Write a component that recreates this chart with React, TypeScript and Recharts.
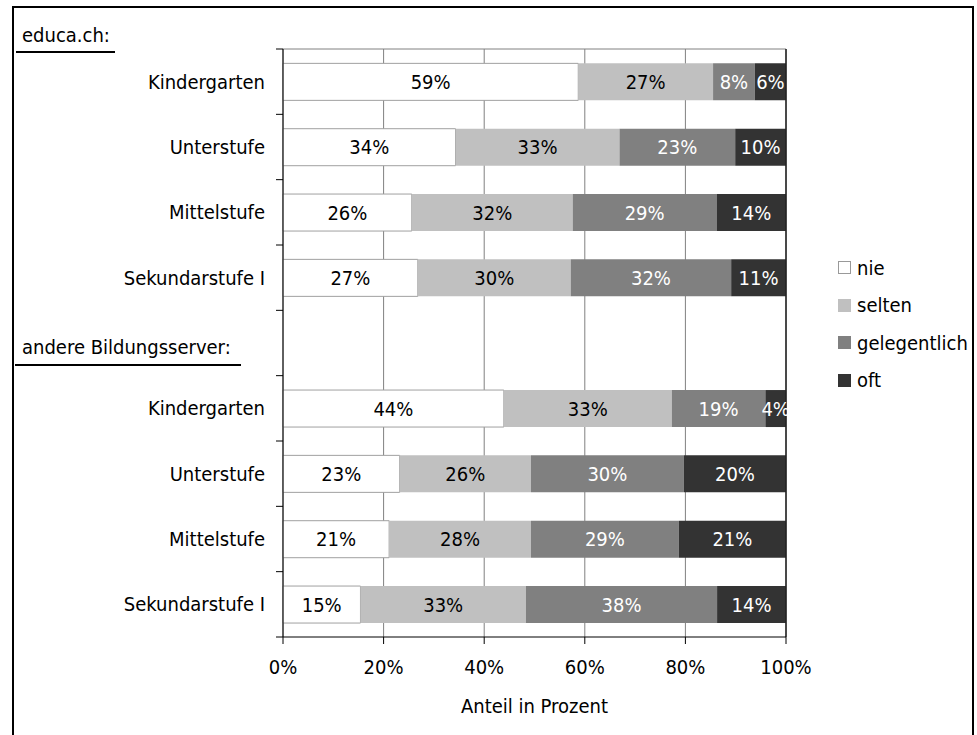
import { BarChart, Bar, XAxis, YAxis, CartesianGrid, LabelList, ReferenceLine } from 'recharts';

const FONT = '"DejaVu Sans Condensed", "Liberation Sans Narrow", "Open Sans", sans-serif';
const FONT_SIZE = 20;

const GROUPS = ['educa.ch:', 'andere Bildungsserver:'];
const LEVELS = ['Kindergarten', 'Unterstufe', 'Mittelstufe', 'Sekundarstufe I'];
const SERIES = ['nie', 'selten', 'gelegentlich', 'oft'];
const COLORS = ['#ffffff', '#c0c0c0', '#808080', '#333333'];
const LABEL_COLORS = ['#000000', '#000000', '#ffffff', '#ffffff'];

// Shares in percent per level: nie, selten, gelegentlich, oft
const EDUCA = [
  [58.7, 26.8, 8.3, 6.2],
  [34.3, 32.6, 23.0, 10.1],
  [25.6, 32.0, 28.6, 13.8],
  [26.8, 30.4, 31.9, 10.9],
];
const ANDERE = [
  [43.9, 33.4, 18.6, 4.1],
  [23.2, 26.1, 30.4, 20.3],
  [21.1, 28.2, 29.4, 21.3],
  [15.4, 32.9, 38.0, 13.7],
];
const X_TICKS = [0, 20, 40, 60, 80, 100];

type Row = { name: string; header?: string; [key: string]: any };

const toRows = (values: number[][]): Row[] =>
  values.map((v, i) => {
    const row: Row = { name: LEVELS[i] };
    SERIES.forEach((s, j) => (row[s] = v[j]));
    return row;
  });

// empty row between the two groups carries the second group title
const data: Row[] = [...toRows(EDUCA), { name: '', header: GROUPS[1] }, ...toRows(ANDERE)];

const fmt = (v: any) => (v == null ? '' : `${Math.round(Number(v))}%`);

function CategoryTick(props: any) {
  const { x, y, payload, index, visibleTicksCount } = props;
  const half = payload?.offset || 588 / 18;
  const axisX = x + 18;
  const row = data[index];
  return (
    <g fontFamily={FONT} fontSize={FONT_SIZE} fill="#000">
      <line x1={axisX - 7} x2={axisX} y1={y - half} y2={y - half} stroke="#000" />
      {index === visibleTicksCount - 1 && (
        <line x1={axisX - 7} x2={axisX} y1={y + half} y2={y + half} stroke="#000" />
      )}
      {index === 0 && (
        <g>
          <text x={22} y={y - half - 14} dominantBaseline="central">{GROUPS[0]}</text>
          <line x1={16} x2={115} y1={y - half + 3} y2={y - half + 3} stroke="#000" strokeWidth={2} />
        </g>
      )}
      {row?.header ? (
        <g>
          <text x={22} y={y + 4} dominantBaseline="central">{row.header}</text>
          <line x1={15} x2={241} y1={y + 22} y2={y + 22} stroke="#000" strokeWidth={2} />
        </g>
      ) : (
        <text x={x} y={y} textAnchor="end" dominantBaseline="central">{payload.value}</text>
      )}
    </g>
  );
}

function SeriesLegend() {
  return (
    <div style={{ position: 'absolute', left: 838, top: 249, fontFamily: FONT, fontSize: FONT_SIZE, color: '#000' }}>
      {SERIES.map((s, i) => (
        <div key={s} style={{ display: 'flex', alignItems: 'center', height: 37.5 }}>
          <span
            style={{
              display: 'inline-block',
              width: 13,
              height: 13,
              boxSizing: 'border-box',
              background: COLORS[i],
              border: i === 0 ? '1px solid #999' : 'none',
              marginRight: 6,
            }}
          />
          {s}
        </div>
      ))}
    </div>
  );
}

export default function App() {
  return (
    <div style={{ position: 'absolute', left: 0, top: 0, width: 977, height: 735, overflow: 'hidden', background: '#fff', fontFamily: FONT }}>
      <div
        style={{
          position: 'absolute',
          left: 12,
          top: 6,
          width: 962,
          height: 760,
          border: '2px solid #000',
          boxSizing: 'border-box',
        }}
      />
      <BarChart
        width={977}
        height={735}
        data={data}
        layout="vertical"
        margin={{ top: 49, right: 191, bottom: 0, left: 0 }}
        barCategoryGap="22%"
        style={{ position: 'absolute', left: 0, top: 0 }}
      >
        <CartesianGrid
          stroke="#808080"
          horizontalCoordinatesGenerator={({ offset }: any) => [offset.top]}
        />
        <XAxis
          type="number"
          domain={[0, 100]}
          ticks={X_TICKS}
          tickFormatter={(v) => `${v}%`}
          height={98}
          tickSize={7}
          tickMargin={16}
          stroke="#000"
          tick={{ fill: '#000', fontSize: FONT_SIZE, fontFamily: FONT }}
          label={{ value: 'Anteil in Prozent', position: 'insideBottom', offset: 22, fill: '#000', fontSize: FONT_SIZE, fontFamily: FONT }}
        />
        <YAxis
          type="category"
          dataKey="name"
          width={283}
          tickSize={6}
          tickMargin={12}
          tickLine={false}
          stroke="#000"
          interval={0}
          tick={<CategoryTick />}
        />
        <ReferenceLine x={100} stroke="#222" strokeWidth={1.5} />
        {SERIES.map((s, i) => (
          <Bar
            key={s}
            dataKey={s}
            stackId="a"
            fill={COLORS[i]}
            stroke={i === 0 ? '#a0a0a0' : 'none'}
            isAnimationActive={false}
          >
            <LabelList
              dataKey={s}
              position="center"
              formatter={fmt}
              fill={LABEL_COLORS[i]}
              fontSize={FONT_SIZE}
              fontFamily={FONT}
            />
          </Bar>
        ))}
      </BarChart>
      <SeriesLegend />
    </div>
  );
}
